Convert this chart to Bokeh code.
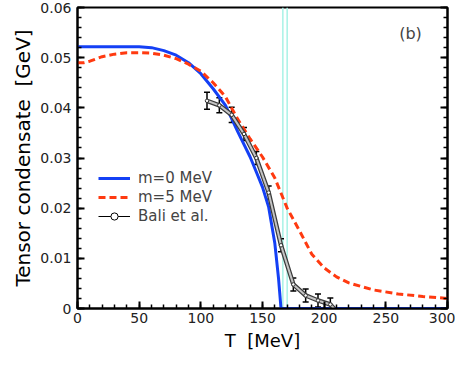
from bokeh.plotting import figure
from bokeh.models import (Range1d, LinearAxis, FixedTicker, CustomJSTickFormatter, Span,
                          Whisker, TeeHead, ColumnDataSource, Legend, LegendItem, Label)
from bokeh.embed import file_html
from bokeh.resources import INLINE

# ---------------- data ----------------
blue_T = [0, 20, 40, 50, 60, 70, 80, 90, 100, 110, 120, 130, 140, 145, 150, 155, 160, 163, 164, 165, 300]
blue_v = [0.0522, 0.0522, 0.0522, 0.0522, 0.0520, 0.0514, 0.0505, 0.0490, 0.0468, 0.0438, 0.0405,
          0.0352, 0.0302, 0.0272, 0.0242, 0.0202, 0.0130, 0.0060, 0.0030, 0.0, 0.0]

red_T = [0, 5, 10, 20, 30, 40, 50, 60, 70, 80, 90, 100, 110, 120, 130, 140, 150, 160, 170,
         180, 190, 200, 210, 220, 240, 260, 280, 300]
red_v = [0.0490, 0.0490, 0.0493, 0.0502, 0.0507, 0.0510, 0.0510, 0.0509, 0.0505, 0.0498, 0.0487,
         0.0473, 0.0450, 0.0422, 0.0377, 0.0338, 0.0302, 0.0260, 0.0200, 0.0155, 0.0108, 0.0081,
         0.0063, 0.0051, 0.0037, 0.0029, 0.0024, 0.0020]

bali_T = [105, 115, 125, 135, 145, 155, 165, 175, 185, 195, 205]
bali_v = [0.0414, 0.0405, 0.0386, 0.0348, 0.0300, 0.0231, 0.0126, 0.0048, 0.0026, 0.0016, 0.0008]
bali_err = [0.0017, 0.0015, 0.0015, 0.0013, 0.0013, 0.0013, 0.0013, 0.0013, 0.0013, 0.0013, 0.0013]
bali_line_T = bali_T + [208]
bali_line_v = bali_v + [0.0]

tc_lines = [166.5, 170]

x_major = [0, 50, 100, 150, 200, 250, 300]
x_minor = list(range(0, 301, 10))
y_major = [0, 0.01, 0.02, 0.03, 0.04, 0.05, 0.06]
y_minor = [i * 0.002 for i in range(31)]

FONT = "DejaVu Sans"
NAN = float("nan")

p = figure(width=455, height=360, output_backend="svg", toolbar_location=None,
           x_range=Range1d(0, 300), y_range=Range1d(0, 0.06),
           min_border_left=77, min_border_right=8, min_border_top=7, min_border_bottom=52,
           x_axis_label="T\u00a0\u00a0[MeV]", y_axis_label="Tensor condensate\u00a0\u00a0[GeV]")
p.grid.visible = False
p.outline_line_color = "black"
p.outline_line_width = 2
p.outline_line_alpha = 1

for t in tc_lines:
    p.add_layout(Span(location=t, dimension="height", line_color="#a8f2e6", line_width=1.5,
                      level="underlay"))

blue = p.line(blue_T, blue_v, line_color="#1440f5", line_width=3)
red = p.line(red_T, red_v, line_color="#ff3a10", line_width=3, line_dash="7 4")

p.line(bali_line_T, bali_line_v, line_color="#3c3c3c", line_width=4.5)
p.line(bali_line_T, bali_line_v, line_color="#c4c4c4", line_width=2)
p.scatter(bali_T, bali_v, marker="circle", size=3.5, fill_color="white",
          line_color="#333333", line_width=1)

# legend-only renderers (no visible data)
leg_line = p.line([NAN, NAN], [NAN, NAN], line_color="black", line_width=1)
leg_pt = p.scatter([NAN], [NAN], marker="circle", size=4, fill_color="white",
                   line_color="black", line_width=1)

src = ColumnDataSource(dict(T=bali_T,
                            lo=[v - e for v, e in zip(bali_v, bali_err)],
                            up=[v + e for v, e in zip(bali_v, bali_err)]))
p.add_layout(Whisker(base="T", lower="lo", upper="up", source=src, line_color="black",
                     line_width=1.5,
                     upper_head=TeeHead(size=6, line_width=1.5, line_color="black"),
                     lower_head=TeeHead(size=6, line_width=1.5, line_color="black")))

# axes styling
for ax in (p.xaxis[0], p.yaxis[0]):
    ax.axis_line_width = 2
    ax.major_tick_in = 7
    ax.major_tick_out = 0
    ax.minor_tick_in = 4
    ax.minor_tick_out = 0
    ax.major_tick_line_width = 2
    ax.minor_tick_line_width = 1.5
    ax.major_label_text_font = FONT
    ax.major_label_text_font_size = "14px"
    ax.major_label_text_color = "#222222"
    ax.axis_label_text_font = FONT
    ax.axis_label_text_font_style = "normal"
    ax.axis_label_text_color = "black"

p.xaxis[0].axis_label_text_font_size = "18px"
p.yaxis[0].axis_label_text_font_size = "20px"
p.xaxis[0].ticker = FixedTicker(ticks=x_major, minor_ticks=x_minor)
p.yaxis[0].ticker = FixedTicker(ticks=y_major, minor_ticks=y_minor)
p.yaxis[0].formatter = CustomJSTickFormatter(code="return tick == 0 ? '0' : tick.toFixed(2);")
p.xaxis[0].major_label_standoff = 4
p.yaxis[0].major_label_standoff = 6
p.xaxis[0].axis_label_standoff = 4
p.yaxis[0].axis_label_standoff = 2

right = LinearAxis(ticker=FixedTicker(ticks=y_major, minor_ticks=y_minor),
                   formatter=CustomJSTickFormatter(code="return '';"))
right.axis_line_width = 2
right.major_tick_in = 7
right.major_tick_out = 0
right.minor_tick_in = 4
right.minor_tick_out = 0
right.major_tick_line_width = 2
right.minor_tick_line_width = 1.5
right.major_label_standoff = 0
p.add_layout(right, "right")

legend = Legend(items=[LegendItem(label="m=0 MeV", renderers=[blue]),
                       LegendItem(label="m=5 MeV", renderers=[red]),
                       LegendItem(label="Bali et al.", renderers=[leg_line, leg_pt])],
                location=(21, 83), orientation="vertical", border_line_color=None,
                background_fill_alpha=0, padding=0, margin=0, spacing=1,
                glyph_width=32, glyph_height=18, label_height=18, label_standoff=8,
                label_text_font=FONT, label_text_font_size="15px")
p.add_layout(legend)

p.add_layout(Label(x=270, y=0.0548, text="(b)", text_font=FONT, text_font_size="16px",
                   text_align="center", text_baseline="middle"))

open("out.html", "w").write(file_html(p, INLINE))
